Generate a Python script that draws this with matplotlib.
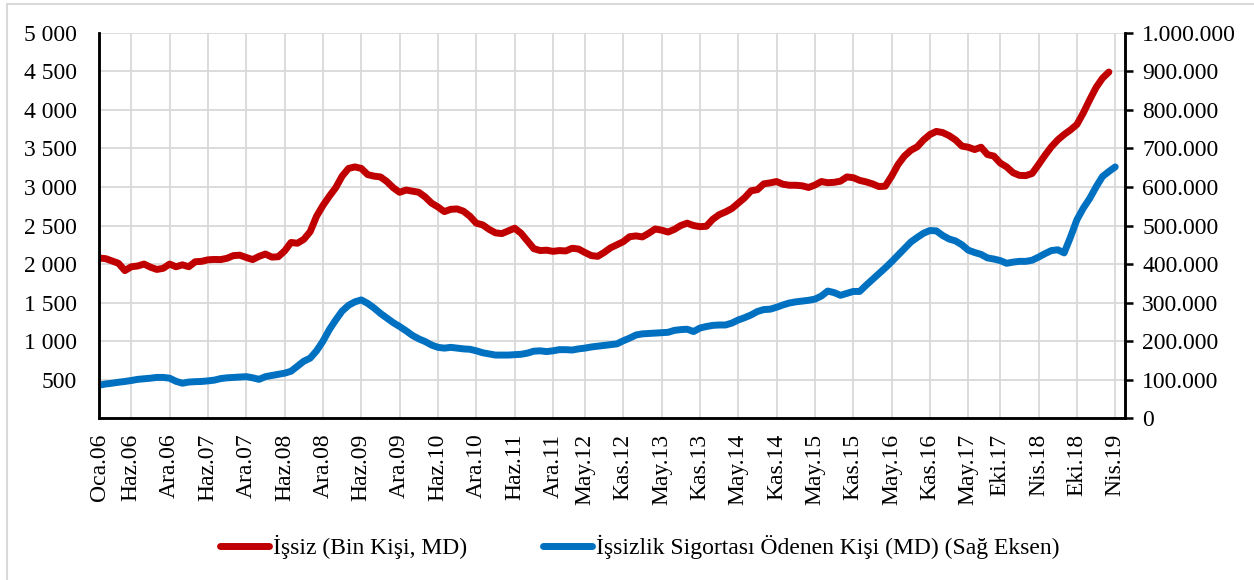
import matplotlib.pyplot as plt
from matplotlib.patches import Rectangle

plt.rcParams['font.family'] = ['Liberation Serif', 'DejaVu Serif']

# Turkish month abbreviations, used to place the category labels
months = ['Oca', 'Şub', 'Mar', 'Nis', 'May', 'Haz', 'Tem', 'Ağu', 'Eyl', 'Eki', 'Kas', 'Ara']

tick_labels = ['Oca.06', 'Haz.06', 'Ara.06', 'Haz.07', 'Ara.07', 'Haz.08', 'Ara.08',
               'Haz.09', 'Ara.09', 'Haz.10', 'Ara.10', 'Haz.11', 'Ara.11', 'May.12',
               'Kas.12', 'May.13', 'Kas.13', 'May.14', 'Kas.14', 'May.15', 'Kas.15',
               'May.16', 'Kas.16', 'May.17', 'Eki.17', 'Nis.18', 'Eki.18', 'Nis.19']

# unemployed, thousand persons (SA), monthly from Oca.06
issiz = [2078, 2070, 2040, 2010, 1915, 1965, 1975, 2000, 1960, 1930,
         1945, 2000, 1965, 1990, 1965, 2030, 2035, 2055, 2060, 2058,
         2075, 2110, 2115, 2085, 2058, 2100, 2130, 2090, 2095, 2170,
         2280, 2270, 2320, 2420, 2620, 2760, 2880, 2990, 3140, 3240,
         3260, 3240, 3160, 3140, 3130, 3070, 2990, 2930, 2960, 2945,
         2931, 2870, 2790, 2740, 2680, 2710, 2715, 2685, 2620, 2530,
         2508, 2450, 2405, 2395, 2430, 2465, 2400, 2300, 2200, 2175,
         2180, 2165, 2175, 2170, 2205, 2195, 2150, 2110, 2100, 2150,
         2210, 2250, 2290, 2355, 2365, 2352, 2400, 2455, 2440, 2415,
         2450, 2500, 2530, 2500, 2485, 2490, 2580, 2640, 2676, 2720,
         2790, 2860, 2950, 2965, 3040, 3053, 3070, 3035, 3022, 3022,
         3015, 2993, 3025, 3070, 3055, 3060, 3075, 3130, 3120, 3085,
         3066, 3040, 3005, 3010, 3140, 3290, 3400, 3475, 3520, 3610,
         3680, 3720, 3705, 3665, 3610, 3530, 3515, 3485, 3515, 3420,
         3400, 3310, 3260, 3185, 3150, 3147, 3175, 3290, 3410, 3520,
         3610, 3680, 3740, 3810, 3960, 4130, 4290, 4410, 4490]

# persons paid unemployment insurance, monthly from Oca.06
sigorta = [86000, 89000, 91000, 93500, 95500, 98000, 101000, 102500, 104000, 106000,
           106000, 104000, 96000, 91000, 94000, 95000, 95500, 97000, 99000, 103000,
           105000, 106000, 107000, 108000, 105000, 101000, 108000, 111000, 114000, 117000,
           122000, 135000, 148000, 156000, 175000, 200000, 230000, 255000, 278000, 293000,
           302000, 307000, 298000, 286000, 272000, 260000, 248000, 238000, 227000, 215000,
           206000, 199000, 190000, 184000, 182000, 184000, 182000, 180000, 179000, 175000,
           170000, 167000, 164000, 164000, 164000, 165000, 166000, 169000, 174000, 175000,
           173000, 175000, 178000, 178000, 177000, 180000, 182000, 185000, 187000, 189000,
           191000, 193000, 201000, 208000, 216000, 219000, 220000, 221000, 222000, 223000,
           228000, 230000, 231000, 225000, 234000, 238000, 241000, 242000, 242000, 247000,
           255000, 261000, 268000, 277000, 282000, 283000, 288000, 294000, 299000, 302000,
           304000, 306000, 309000, 317000, 330000, 326000, 319000, 324000, 329000, 329000,
           345000, 360000, 375000, 390000, 406000, 423000, 440000, 457000, 469000, 480000,
           487000, 486000, 474000, 465000, 460000, 450000, 436000, 430000, 425000, 416000,
           413000, 409000, 402000, 405000, 407000, 407000, 410000, 418000, 427000, 435000,
           437000, 429000, 470000, 515000, 545000, 570000, 600000, 627000, 640000, 652000]


def label_pos(lbl):
    m, y = lbl.split('.')
    return months.index(m) + 12 * (int(y) - 6)


fig = plt.figure(figsize=(12.54, 5.8), dpi=100)
fig.patches.append(Rectangle((0.0056, -0.1), 1.2, 1.093, transform=fig.transFigure,
                             fill=False, edgecolor='#D9D9D9', linewidth=1.5))

ax = fig.add_axes([0.0792, 0.2788, 0.8183, 0.6648])
ax2 = ax.twinx()

red, = ax.plot(range(len(issiz)), issiz, color='#C00000', lw=5,
               solid_capstyle='round', solid_joinstyle='round',
               label='İşsiz (Bin Kişi, MD)')
blue, = ax2.plot(range(len(sigorta)), sigorta, color='#0070C0', lw=5,
                 solid_capstyle='round', solid_joinstyle='round',
                 label='İşsizlik Sigortası Ödenen Kişi (MD) (Sağ Eksen)')

ax.set_xlim(0, 160.6)
ax.set_ylim(0, 5000)
ax2.set_ylim(0, 1000000)

ax.set_xticks([label_pos(l) for l in tick_labels])
ax.set_xticklabels(tick_labels, rotation=90, fontsize=17)
ax.tick_params(axis='x', length=0, pad=11)

left_ticks = list(range(500, 5001, 500))
ax.set_yticks([0] + left_ticks)
ax.set_yticklabels([''] + [f'{v:,}'.replace(',', ' ') for v in left_ticks], fontsize=17)
ax.tick_params(axis='y', length=0, pad=16)

right_ticks = list(range(0, 1000001, 100000))
ax2.set_yticks(right_ticks)
ax2.set_yticklabels([f'{v:,}'.replace(',', '.') for v in right_ticks], fontsize=17)
ax2.tick_params(axis='y', length=6, width=1.8, pad=6)

ax.grid(True, color='#D9D9D9', lw=1.3)
ax.set_axisbelow(True)
for a in (ax, ax2):
    a.spines['top'].set_visible(False)
    for s in ('left', 'right', 'bottom'):
        a.spines[s].set_linewidth(1.8)
        a.spines[s].set_color('black')

fig.legend(handles=[red, blue], loc='center', bbox_to_anchor=(0.51, 0.057), ncol=2,
           frameon=False, fontsize=17, handlelength=2.1, handletextpad=0.15,
           columnspacing=3.2)

fig.savefig('out.png', dpi=100)
